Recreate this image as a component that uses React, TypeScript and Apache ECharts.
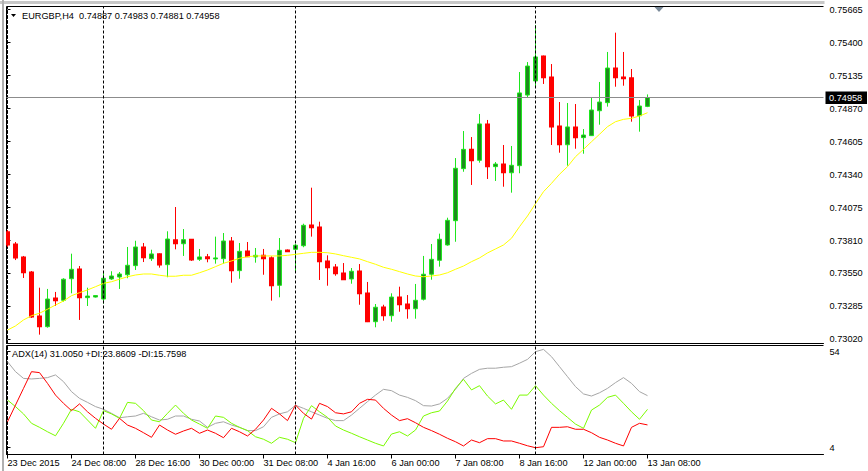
import React, { useEffect, useRef } from "react";
import * as echarts from "echarts";

// ---------- data ----------
const symbolTitle = "EURGBP,H4  0.74887 0.74983 0.74881 0.74958";
const adxTitle = "ADX(14) 31.0050 +DI:23.8609 -DI:15.7598";
const bidPrice = 0.74958;

const opens = [
  0.73881, 0.73782, 0.73678, 0.73557, 0.73204, 0.73118, 0.73348, 0.7333, 0.73503, 0.73581,
  0.73351, 0.73356, 0.7334, 0.73501, 0.73517, 0.73535, 0.73608, 0.73758, 0.73664, 0.73704,
  0.73616, 0.73817, 0.73784, 0.7382, 0.73659, 0.7368, 0.73662, 0.73664, 0.73806, 0.73568,
  0.73726, 0.73678, 0.73691, 0.73672, 0.7345, 0.73734, 0.73739, 0.73768, 0.73935, 0.73919,
  0.73646, 0.73597, 0.73549, 0.73501, 0.73565, 0.73388, 0.73158, 0.73276, 0.73206, 0.73356,
  0.733, 0.73262, 0.73338, 0.73539, 0.73651, 0.73774, 0.73969, 0.74387, 0.74542, 0.74454,
  0.74746, 0.74403, 0.74424, 0.74354, 0.74411, 0.74978, 0.75091, 0.75292, 0.75123, 0.7473,
  0.74579, 0.74722, 0.74636, 0.74652, 0.74852, 0.74917, 0.75195, 0.75123, 0.75117, 0.74812,
  0.74887,
];
const closes = [
  0.73774, 0.7367, 0.73551, 0.73196, 0.73118, 0.7334, 0.73327, 0.73499, 0.73579, 0.73351,
  0.73364, 0.73368, 0.73507, 0.73525, 0.73541, 0.73611, 0.73758, 0.73672, 0.73702, 0.73613,
  0.73822, 0.73784, 0.73817, 0.73653, 0.73678, 0.73664, 0.7367, 0.73806, 0.73568, 0.73723,
  0.7368, 0.73691, 0.73664, 0.73447, 0.73731, 0.7372, 0.73772, 0.73932, 0.73913, 0.7364,
  0.73592, 0.73543, 0.73495, 0.73563, 0.73383, 0.73158, 0.73274, 0.73206, 0.73356, 0.73294,
  0.73262, 0.7333, 0.73539, 0.73659, 0.7382, 0.73972, 0.7439, 0.74542, 0.74451, 0.74746,
  0.74403, 0.74424, 0.74354, 0.74414, 0.74995, 0.75211, 0.75284, 0.75117, 0.74722, 0.74579,
  0.74722, 0.74636, 0.74657, 0.74858, 0.74922, 0.75195, 0.75117, 0.75109, 0.7481, 0.7489,
  0.74958,
];
const lows = [
  0.73758, 0.73653, 0.73509, 0.73188, 0.73054, 0.7311, 0.73284, 0.73319, 0.73386, 0.73172,
  0.73284, 0.73352, 0.73303, 0.73493, 0.73421, 0.73507, 0.73573, 0.73637, 0.73646, 0.73592,
  0.73515, 0.73739, 0.73686, 0.73646, 0.73646, 0.73635, 0.73624, 0.73624, 0.73471, 0.73503,
  0.73678, 0.73632, 0.73535, 0.73327, 0.73354, 0.73718, 0.73557, 0.73756, 0.73841, 0.73493,
  0.73447, 0.73527, 0.73493, 0.73463, 0.73294, 0.73155, 0.73113, 0.73166, 0.73158, 0.73238,
  0.73182, 0.73182, 0.73328, 0.73495, 0.736, 0.73768, 0.738, 0.74362, 0.74256, 0.74435,
  0.74304, 0.74288, 0.74242, 0.74194, 0.7435, 0.7496, 0.75045, 0.75067, 0.74577, 0.74515,
  0.74411, 0.74547, 0.74507, 0.7465, 0.7474, 0.74885, 0.75045, 0.75053, 0.74764, 0.74684,
  0.74881,
];
const highs = [
  0.73894, 0.73798, 0.73686, 0.73565, 0.73431, 0.73421, 0.73397, 0.73507, 0.73704, 0.73605,
  0.73431, 0.73372, 0.7356, 0.73563, 0.73557, 0.73758, 0.73808, 0.7379, 0.73736, 0.73706,
  0.73884, 0.74079, 0.73902, 0.73822, 0.73742, 0.73702, 0.73841, 0.7387, 0.73838, 0.7379,
  0.73798, 0.7375, 0.73742, 0.73683, 0.7383, 0.73738, 0.73782, 0.73945, 0.74234, 0.73961,
  0.73691, 0.73621, 0.73629, 0.73589, 0.73621, 0.73477, 0.733, 0.73294, 0.73386, 0.73439,
  0.73372, 0.73461, 0.73686, 0.73782, 0.73865, 0.73993, 0.74472, 0.74689, 0.74641, 0.74826,
  0.74778, 0.7444, 0.74577, 0.74569, 0.75163, 0.75243, 0.75541, 0.75295, 0.75227, 0.74922,
  0.74914, 0.74906, 0.74705, 0.74957, 0.75083, 0.75324, 0.75479, 0.75324, 0.75187, 0.74938,
  0.74983,
];
const maValues = [
  0.73091, 0.73124, 0.73172, 0.73206, 0.73226, 0.73258, 0.73292, 0.73324, 0.73367, 0.73391,
  0.73413, 0.73439, 0.73466, 0.73479, 0.73499, 0.73519, 0.73533, 0.73541, 0.73541, 0.73531,
  0.73523, 0.73523, 0.73531, 0.73531, 0.73551, 0.73573, 0.736, 0.73627, 0.73646, 0.73667,
  0.7368, 0.73686, 0.73686, 0.73686, 0.73686, 0.73691, 0.73699, 0.73707, 0.73715, 0.73715,
  0.73712, 0.73702, 0.73688, 0.73675, 0.73662, 0.7364, 0.73619, 0.73595, 0.73579, 0.7356,
  0.73541, 0.73525, 0.73519, 0.73525, 0.73533, 0.73551, 0.73579, 0.73605, 0.7364, 0.7367,
  0.7371, 0.73742, 0.73774, 0.73828, 0.73921, 0.74007, 0.74106, 0.74202, 0.74269, 0.74342,
  0.74403, 0.74483, 0.74542, 0.74603, 0.74663, 0.74724, 0.74764, 0.74783, 0.74791, 0.7481,
  0.74836,
];
const adxValues = [
  48.7, 43.5, 40.0, 39.7, 40.0, 40.4, 41.8, 38.3, 33.1, 29.6,
  27.5, 25.3, 23.9, 21.8, 19.5, 20.0, 20.4, 21.8, 20.0, 18.3,
  18.7, 20.4, 20.4, 18.7, 17.8, 14.5, 16.6, 17.4, 15.7, 14.5,
  12.8, 12.8, 14.8, 19.7, 21.5, 22.6, 26.0, 24.4, 22.6, 20.9,
  19.2, 18.0, 18.0, 20.9, 24.4, 27.9, 31.3, 34.3, 33.6, 31.3,
  30.1, 28.4, 25.8, 25.6, 26.7, 29.6, 34.3, 40.0, 42.6, 44.7,
  45.3, 45.3, 45.8, 46.1, 47.9, 49.9, 53.9, 55.1, 51.3, 46.1,
  40.9, 35.7, 31.9, 30.8, 32.5, 34.8, 37.8, 40.4, 37.4, 33.1,
  31.005,
];
const plusDI = [
  28.7, 25.3, 21.5, 16.6, 14.5, 12.2, 10.1, 16.6, 23.9, 22.6,
  18.3, 14.0, 23.2, 21.5, 19.2, 27.5, 27.0, 23.2, 18.3, 17.4,
  21.8, 26.1, 21.8, 18.3, 16.2, 14.0, 20.4, 19.7, 16.6, 14.5,
  12.8, 9.6, 8.3, 6.2, 9.3, 8.3, 6.5, 19.2, 25.8, 22.6,
  19.7, 15.2, 13.1, 11.4, 9.6, 7.9, 6.2, 4.8, 11.0, 12.2,
  10.0, 13.1, 20.4, 22.1, 23.0, 28.2, 34.8, 39.5, 34.0, 36.2,
  30.8, 26.7, 28.7, 23.9, 31.3, 31.3, 36.2, 31.3, 27.0, 23.2,
  19.7, 16.2, 14.0, 23.5, 26.1, 30.1, 31.3, 27.0, 22.6, 18.7,
  23.8609,
];
const minusDI = [
  17.4, 26.1, 34.8, 43.5, 43.0, 37.4, 31.3, 27.0, 23.2, 26.7,
  22.6, 19.2, 16.2, 13.5, 19.2, 15.7, 14.0, 11.7, 9.3, 15.7,
  13.1, 10.9, 12.6, 14.0, 11.4, 13.1, 11.4, 9.1, 14.0, 12.2,
  10.0, 13.5, 18.3, 24.4, 21.5, 18.0, 26.1, 21.8, 18.8, 27.0,
  25.3, 22.1, 21.5, 22.6, 27.0, 29.1, 28.7, 24.4, 20.9, 18.0,
  19.0, 16.9, 14.5, 12.8, 10.9, 8.8, 7.0, 4.8, 7.9, 6.5,
  8.6, 8.6, 7.4, 7.4, 6.2, 4.9, 3.9, 4.4, 14.5, 14.5,
  14.8, 13.5, 13.5, 11.7, 9.3, 7.9, 6.2, 4.8, 14.5, 16.6,
  15.7598,
];
const weekSeparators = [12, 36, 66];
const priceTicks = [0.75665, 0.754, 0.75135, 0.7487, 0.74605, 0.7434, 0.74075, 0.7381, 0.7355, 0.73285, 0.7302];
const adxTicks = [54, 4];
const timeTickIdx = [0, 8, 16, 24, 32, 40, 48, 56, 64, 72, 80];
const timeLabels = [
  "23 Dec 2015", "24 Dec 08:00", "28 Dec 16:00", "30 Dec 00:00", "31 Dec 08:00",
  "4 Jan 16:00", "6 Jan 00:00", "7 Jan 08:00", "8 Jan 16:00", "12 Jan 00:00", "13 Jan 08:00",
];

// ---------- layout / style ----------
const W = 868;
const H = 471;
const PL = 6.5;
const PR = 823.5;
const MAIN_TOP = 6.5;
const MAIN_BOT = 343.5;
const IND_TOP = 345.5;
const IND_BOT = 454.5;
const X_MIN = -0.125;
const X_MAX = X_MIN + (PR - PL) / 8;
const PX_PER_PRICE = 33 / 0.00265;
const Y_MAX = 0.75665 + (9.5 - MAIN_TOP) / PX_PER_PRICE;
const Y_MIN = 0.75665 - (MAIN_BOT - 9.5) / PX_PER_PRICE;
const ADX_PX = 96 / 50;
const A_MAX = 54 + (351.5 - IND_TOP) / ADX_PX;
const A_MIN = 4 - (IND_BOT - 447.5) / ADX_PX;

const FONT = '"Liberation Sans", Arial, sans-serif';
const FS = 9.2;
const UP_EDGE = "#1ee61e";
const UP_FILL = "#1f8a1f";
const DOWN = "#ff0000";

export default function App() {
  const ref = useRef<HTMLDivElement>(null);

  useEffect(() => {
    if (!ref.current) return;
    const chart = echarts.init(ref.current, null, { renderer: "svg" });

    const candles = opens.map((o, i) => [i, o, closes[i], lows[i], highs[i]]);
    const sepLines = weekSeparators.map((x) => ({
      xAxis: x,
      lineStyle: { color: "#000", type: [3, 2], width: 1 },
    }));

    const option: any = {
      animation: false,
      backgroundColor: "#ffffff",
      textStyle: { fontFamily: FONT },
      grid: [
        { left: PL, width: PR - PL, top: MAIN_TOP, height: MAIN_BOT - MAIN_TOP, show: false, outerBoundsMode: "none", containLabel: false },
        { left: PL, width: PR - PL, top: IND_TOP, height: IND_BOT - IND_TOP, show: false, outerBoundsMode: "none", containLabel: false },
      ],
      xAxis: [
        {
          type: "value", gridIndex: 0, min: X_MIN, max: X_MAX,
          axisLine: { show: true, onZero: false, lineStyle: { color: "#000", width: 1 } },
          axisTick: { show: false }, axisLabel: { show: false }, splitLine: { show: false },
        },
        {
          type: "value", gridIndex: 1, min: X_MIN, max: X_MAX,
          axisLine: { show: true, onZero: false, lineStyle: { color: "#000", width: 1 } },
          axisTick: { show: true, customValues: timeTickIdx, length: 4, lineStyle: { color: "#000" } },
          axisLabel: {
            show: true, customValues: timeTickIdx, align: "left", margin: 4,
            color: "#000", fontSize: FS, fontFamily: FONT,
            formatter: (v: number) => timeLabels[timeTickIdx.indexOf(Math.round(v))] ?? "",
          },
          splitLine: { show: false },
        },
      ],
      yAxis: [
        {
          type: "value", gridIndex: 0, position: "right", min: Y_MIN, max: Y_MAX,
          axisLine: { show: true, lineStyle: { color: "#000", type: [3, 2], width: 1 } },
          axisTick: { show: true, customValues: priceTicks, length: 3, lineStyle: { color: "#000" } },
          axisLabel: {
            show: true, customValues: priceTicks, margin: 6, color: "#000", fontSize: FS, fontFamily: FONT,
            formatter: (v: number) => v.toFixed(5),
          },
          splitLine: { show: false },
        },
        {
          type: "value", gridIndex: 1, position: "right", min: A_MIN, max: A_MAX,
          axisLine: { show: true, lineStyle: { color: "#000", type: [3, 2], width: 1 } },
          axisTick: { show: true, customValues: adxTicks, length: 3, lineStyle: { color: "#000" } },
          axisLabel: {
            show: true, customValues: adxTicks, margin: 6, color: "#000", fontSize: FS, fontFamily: FONT,
            formatter: (v: number) => String(Math.round(v)),
          },
          splitLine: { show: false },
        },
      ],
      series: [
        {
          type: "custom",
          name: "candles",
          xAxisIndex: 0,
          yAxisIndex: 0,
          clip: true,
          data: candles,
          encode: { x: 0, y: [1, 2, 3, 4] },
          renderItem: (params: any, api: any) => {
            const i = api.value(0);
            const o = api.value(1);
            const c = api.value(2);
            const l = api.value(3);
            const h = api.value(4);
            const pO = api.coord([i, o]);
            const yC = api.coord([i, c])[1];
            const yL = api.coord([i, l])[1];
            const yH = api.coord([i, h])[1];
            const cx = Math.floor(pO[0]) + 0.5;
            const bull = c >= o;
            const top = Math.min(pO[1], yC);
            const bot = Math.max(pO[1], yC);
            const children: any[] = [
              {
                type: "line",
                shape: { x1: cx, y1: yH, x2: cx, y2: yL },
                style: { stroke: bull ? UP_EDGE : DOWN, lineWidth: 1 },
              },
            ];
            if (bull) {
              children.push({
                type: "rect",
                shape: { x: cx - 2, y: top, width: 4, height: Math.max(bot - top, 1) },
                style: { fill: UP_FILL, stroke: UP_EDGE, lineWidth: 1 },
              });
            } else {
              children.push({
                type: "rect",
                shape: { x: cx - 2.5, y: top - 0.5, width: 5, height: Math.max(bot - top + 1, 1) },
                style: { fill: DOWN },
              });
            }
            return { type: "group", children };
          },
          z: 2,
        },
        {
          type: "line",
          name: "MA",
          xAxisIndex: 0,
          yAxisIndex: 0,
          data: maValues.map((v, i) => [i, v]),
          showSymbol: false,
          symbol: "none",
          lineStyle: { color: "#ffff00", width: 1 },
          z: 3,
          markLine: {
            silent: true,
            precision: 6,
            symbol: ["none", "none"],
            label: { show: false },
            animation: false,
            data: [
              { yAxis: bidPrice, lineStyle: { color: "#8c8c8c", type: "solid", width: 1 } },
              ...sepLines,
            ],
          },
        },
        {
          type: "line",
          name: "ADX",
          xAxisIndex: 1,
          yAxisIndex: 1,
          data: adxValues.map((v, i) => [i, v]),
          showSymbol: false,
          symbol: "none",
          lineStyle: { color: "#a6a6a6", width: 1 },
          markLine: {
            silent: true,
            precision: 6,
            symbol: ["none", "none"],
            label: { show: false },
            animation: false,
            data: sepLines,
          },
        },
        {
          type: "line",
          name: "+DI",
          xAxisIndex: 1,
          yAxisIndex: 1,
          data: plusDI.map((v, i) => [i, v]),
          showSymbol: false,
          symbol: "none",
          lineStyle: { color: "#7cfc00", width: 1 },
        },
        {
          type: "line",
          name: "-DI",
          xAxisIndex: 1,
          yAxisIndex: 1,
          data: minusDI.map((v, i) => [i, v]),
          showSymbol: false,
          symbol: "none",
          lineStyle: { color: "#ff0000", width: 1 },
        },
      ],
      graphic: [
        { type: "rect", shape: { x: 0, y: 1, width: PR + 1, height: 3 }, style: { fill: "#c8c8c8" }, silent: true },
        { type: "rect", shape: { x: 2, y: 0, width: 2, height: H }, style: { fill: "#b0b0b0" }, silent: true },
        { type: "line", shape: { x1: PL, y1: MAIN_TOP, x2: PR, y2: MAIN_TOP }, style: { stroke: "#000", lineWidth: 1 }, silent: true },
        { type: "line", shape: { x1: PL, y1: MAIN_TOP, x2: PL, y2: MAIN_BOT }, style: { stroke: "#000", lineWidth: 1 }, silent: true },
        { type: "line", shape: { x1: PL, y1: IND_TOP, x2: PR, y2: IND_TOP }, style: { stroke: "#000", lineWidth: 1 }, silent: true },
        { type: "line", shape: { x1: PL, y1: IND_TOP, x2: PL, y2: IND_BOT }, style: { stroke: "#000", lineWidth: 1 }, silent: true },
        { type: "polygon", shape: { points: [[11, 14], [16, 14], [13.5, 17]] }, style: { fill: "#000" }, silent: true },
        {
          type: "text", x: 22, y: 15.5,
          style: { text: symbolTitle, fill: "#000", font: `${FS}px ${FONT}`, textVerticalAlign: "middle", verticalAlign: "middle" },
          silent: true,
        },
        {
          type: "text", x: 12, y: 354,
          style: { text: adxTitle, fill: "#000", font: `${FS}px ${FONT}`, textVerticalAlign: "middle", verticalAlign: "middle" },
          silent: true,
        },
        { type: "polygon", shape: { points: [[654.5, 7], [663.5, 7], [659, 12]] }, style: { fill: "#7a8a99" }, silent: true },
        { type: "rect", shape: { x: 825.5, y: 91.5, width: 41.5, height: 12.5 }, style: { fill: "#000" }, silent: true, z: 100 },
        {
          type: "text", x: 829, y: 97.8, z: 101,
          style: { text: bidPrice.toFixed(5), fill: "#fff", font: `${FS}px ${FONT}`, textVerticalAlign: "middle", verticalAlign: "middle" },
          silent: true,
        },
      ],
    };

    chart.setOption(option);
    return () => chart.dispose();
  }, []);

  return (
    <div
      ref={ref}
      style={{ position: "fixed", left: 0, top: 0, width: W, height: H, background: "#fff" }}
    />
  );
}
